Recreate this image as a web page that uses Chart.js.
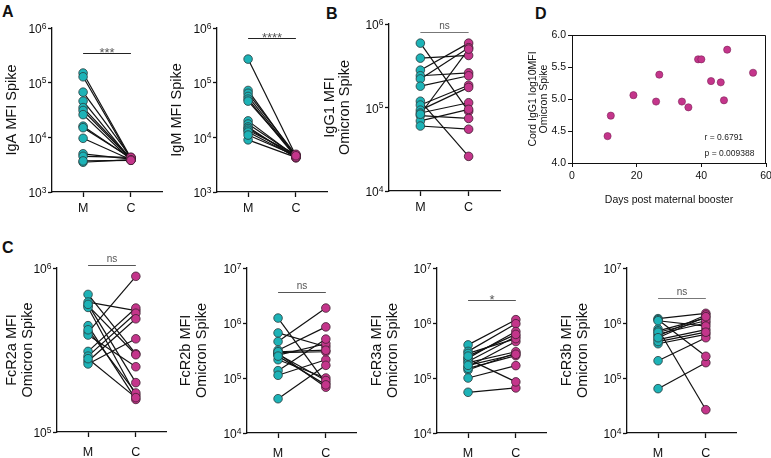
<!DOCTYPE html>
<html lang="en">
<head>
<meta charset="UTF-8">
<title>Maternal vs cord Omicron Spike antibodies</title>
<script src="https://cdn.jsdelivr.net/npm/chart.js"></script>
<style>
  body { margin: 0; background: #fff; width: 771px; height: 458px; overflow: hidden; position: relative;
         font-family: "Liberation Sans", Arial, sans-serif; }
  canvas { position: absolute; }
  .tag { position: absolute; font-weight: bold; font-size: 16px; line-height: 1; color: #111; }
</style>
</head>
<body>
<div class="tag" style="left:2px;top:4px">A</div>
<div class="tag" style="left:326px;top:6px">B</div>
<div class="tag" style="left:2px;top:240px">C</div>
<div class="tag" style="left:535px;top:6px">D</div>

<canvas id="iga" width="170" height="215" style="left:0;top:0"></canvas>
<canvas id="igm" width="170" height="215" style="left:165px;top:0"></canvas>
<canvas id="igg1" width="185" height="215" style="left:322px;top:0"></canvas>
<canvas id="corr" width="260" height="215" style="left:522px;top:0"></canvas>
<canvas id="fcr2a" width="172" height="223" style="left:0;top:235px"></canvas>
<canvas id="fcr2b" width="192" height="223" style="left:170px;top:235px"></canvas>
<canvas id="fcr3a" width="192" height="223" style="left:360px;top:235px"></canvas>
<canvas id="fcr3b" width="192" height="223" style="left:550px;top:235px"></canvas>

<script>
// groups on the x axis: maternal (M) and cord (C)
const groups = ['M', 'C'];

// paired MFI values, one entry per mother/cord pair
const igaM = [150000, 128000, 67000, 46000, 35000, 31000, 26000, 16000, 15000, 9600, 5000, 4500, 3500, 3700];
const igaC = [4200, 4000, 4300, 3900, 4100, 4000, 3800, 4100, 4200, 3900, 4000, 4300, 3900, 3800];

const igmM = [270000, 72000, 64000, 56000, 50000, 46000, 20000, 17500, 15500, 14500, 13500, 12500, 9000, 11000];
const igmC = [4600, 4400, 4800, 4500, 4300, 4700, 4400, 4600, 4200, 4500, 4900, 4400, 4300, 4600];

const igg1M = [590000, 390000, 280000, 240000, 220000, 180000, 119000, 107000, 93000, 86000, 80000, 69000, 60000, 83000];
const igg1C = [90000, 420000, 590000, 260000, 520000, 240000, 26000, 185000, 174000, 114000, 74000, 95000, 55000, 500000];

const fcr2aM = [690000, 620000, 590000, 575000, 445000, 405000, 390000, 310000, 290000, 270000, 260000, 600000, 420000, 280000];
const fcr2aC = [300000, 550000, 296000, 167000, 158000, 890000, 250000, 570000, 530000, 490000, 370000, 200000, 173000, 162000];

const fcr2bM = [1230000, 660000, 460000, 320000, 280000, 260000, 215000, 136000, 112000, 42000, 290000, 270000, 300000, 250000];
const fcr2bC = [81000, 370000, 1870000, 850000, 68000, 420000, 100000, 510000, 215000, 170000, 300000, 90000, 320000, 75000];

const fcr3aM = [400000, 305000, 230000, 200000, 160000, 140000, 100000, 55000, 280000, 220000, 190000, 150000, 250000, 170000];
const fcr3aC = [1150000, 970000, 700000, 570000, 460000, 285000, 168000, 66000, 520000, 85000, 300000, 255000, 620000, 270000];

const fcr3bM = [1200000, 780000, 630000, 500000, 420000, 206000, 64000, 1150000, 720000, 580000, 680000, 1100000, 460000, 540000];
const fcr3bC = [1500000, 26500, 1000000, 760000, 620000, 540000, 190000, 248000, 1230000, 1400000, 1100000, 880000, 680000, 1300000];

// log axis tick values
const ticks3to6 = [1e3, 1e4, 1e5, 1e6];
const ticks4to6 = [1e4, 1e5, 1e6];
const ticks5to6 = [1e5, 1e6];
const ticks4to7 = [1e4, 1e5, 1e6, 1e7];

// panel D: days since booster vs cord IgG1 (log10 MFI)
const boosterDays = [11, 12, 19, 26, 27, 34, 36, 39, 40, 43, 46, 47, 48, 56];
const cordIgG1 = [4.42, 4.74, 5.06, 4.96, 5.38, 4.96, 4.87, 5.62, 5.62, 5.28, 5.26, 4.98, 5.77, 5.41];
const corrStats = ['r = 0.6791', 'p = 0.009388'];

const FONT = '"Liberation Sans", Arial, sans-serif';
Chart.defaults.font.family = FONT;
Chart.defaults.color = '#111';

const TEAL = '#1db3b7';
const PINK = '#c4358b';

// draws "10" with a raised exponent next to each y tick
const powerLabels = {
    id: 'powerLabels',
    afterDraw(chart) {
        const { ctx } = chart;
        const y = chart.scales.y;
        ctx.save();
        ctx.fillStyle = '#111';
        ctx.textAlign = 'right';
        y.ticks.forEach(t => {
            const py = y.getPixelForValue(t.value);
            const exp = String(Math.round(Math.log10(t.value)));
            const xr = y.right - 5.5;
            ctx.font = '8.5px ' + FONT;
            ctx.textBaseline = 'alphabetic';
            ctx.fillText(exp, xr, py + 0.5);
            const w = ctx.measureText(exp).width;
            ctx.font = '12px ' + FONT;
            ctx.textBaseline = 'middle';
            ctx.fillText('10', xr - w, py + 2);
        });
        ctx.restore();
    }
};

// significance bar between M and C
function sigPlugin(level, label, color) {
    return {
        id: 'sig',
        afterDatasetsDraw(chart) {
            const { ctx, scales: { x, y } } = chart;
            const py = Math.round(y.getPixelForValue(level)) + 0.5;
            const x0 = x.getPixelForValue(0), x1 = x.getPixelForValue(1);
            ctx.save();
            ctx.strokeStyle = color;
            ctx.lineWidth = 1.2;
            ctx.beginPath();
            ctx.moveTo(x0, py);
            ctx.lineTo(x1, py);
            ctx.stroke();
            ctx.fillStyle = '#555';
            ctx.textAlign = 'center';
            ctx.textBaseline = 'alphabetic';
            if (label === 'ns') {
                ctx.font = '10px ' + FONT;
                ctx.fillText(label, (x0 + x1) / 2, py - 4);
            } else {
                ctx.font = '13px ' + FONT;
                ctx.fillText(label, (x0 + x1) / 2, py + 3);
            }
            ctx.restore();
        }
    };
}

function pairedChart(id, mVals, cVals, p) {
    const datasets = [
        { data: mVals.map(v => ({ x: 0, y: v })), pointRadius: 4.3, pointBackgroundColor: TEAL,
          pointBorderColor: '#2a3b3c', pointBorderWidth: 0.8, order: 0, clip: false },
        { data: cVals.map(v => ({ x: 1, y: v })), pointRadius: 4.3, pointBackgroundColor: PINK,
          pointBorderColor: '#3d1f30', pointBorderWidth: 0.8, order: 0, clip: false }
    ];
    mVals.forEach((m, i) => {
        datasets.push({
            data: [{ x: 0, y: m }, { x: 1, y: cVals[i] }],
            showLine: true, borderColor: '#111', borderWidth: 1.2, pointRadius: 0, order: 1, clip: false
        });
    });

    return new Chart(document.getElementById(id), {
        type: 'scatter',
        data: { datasets },
        options: {
            responsive: false,
            animation: false,
            events: [],
            layout: { padding: { top: p.top, right: p.right, left: 0, bottom: 0 } },
            plugins: { legend: { display: false }, tooltip: { enabled: false } },
            scales: {
                x: {
                    type: 'linear', min: -0.65, max: 1.65,
                    afterBuildTicks: s => { s.ticks = [{ value: 0 }, { value: 1 }]; },
                    afterFit: s => { s.height = p.xh; },
                    ticks: { callback: v => groups[v], font: { size: 12.5 }, padding: p.xpad, maxRotation: 0 },
                    grid: { drawOnChartArea: false, tickLength: 5, tickWidth: 1.3, tickColor: '#111' },
                    border: { color: '#111', width: 1.3 }
                },
                y: {
                    type: 'logarithmic', min: p.ticks[0], max: p.ticks[p.ticks.length - 1],
                    afterBuildTicks: s => { s.ticks = p.ticks.map(v => ({ value: v })); },
                    afterFit: s => { s.width = p.yw; },
                    ticks: { display: false },
                    grid: { drawOnChartArea: false, tickLength: 4, tickWidth: 1.3, tickColor: '#111' },
                    border: { color: '#111', width: 1.3 },
                    title: { display: true, text: p.title, font: { size: 14.5, lineHeight: p.lh },
                             padding: { top: p.tpad, bottom: 0 } }
                }
            }
        },
        plugins: [powerLabels, sigPlugin(p.sig, p.sigLabel, p.sigColor)]
    });
}

pairedChart('iga', igaM, igaC, { top: 28, right: 8, xh: 23, xpad: 4, yw: 52, ticks: ticks3to6,
    title: 'IgA MFI Spike', lh: 1.2, tpad: 3.3, sig: 3.5e5, sigLabel: '***', sigColor: '#222' });
pairedChart('igm', igmM, igmC, { top: 28, right: 8, xh: 23, xpad: 4, yw: 52, ticks: ticks3to6,
    title: 'IgM MFI Spike', lh: 1.2, tpad: 3.3, sig: 6.6e5, sigLabel: '****', sigColor: '#222' });
pairedChart('igg1', igg1M, igg1C, { top: 24, right: 7, xh: 24, xpad: 4, yw: 67, ticks: ticks4to6,
    title: ['IgG1 MFI', 'Omicron Spike'], lh: 1.04, tpad: 0.5, sig: 8.1e5, sigLabel: 'ns', sigColor: '#777' });

pairedChart('fcr2a', fcr2aM, fcr2aC, { top: 33, right: 5, xh: 26, xpad: 8, yw: 57, ticks: ticks5to6,
    title: ['FcR2a MFI', 'Omicron Spike'], lh: 1.1, tpad: 4, sig: 1.04e6, sigLabel: 'ns', sigColor: '#555' });
pairedChart('fcr2b', fcr2bM, fcr2bC, { top: 33, right: 5, xh: 25, xpad: 8, yw: 77, ticks: ticks4to7,
    title: ['FcR2b MFI', 'Omicron Spike'], lh: 1.1, tpad: 8, sig: 3.6e6, sigLabel: 'ns', sigColor: '#555' });
pairedChart('fcr3a', fcr3aM, fcr3aC, { top: 33, right: 5, xh: 25, xpad: 8, yw: 77, ticks: ticks4to7,
    title: ['FcR3a MFI', 'Omicron Spike'], lh: 1.1, tpad: 9, sig: 2.6e6, sigLabel: '*', sigColor: '#555' });
pairedChart('fcr3b', fcr3bM, fcr3bC, { top: 33, right: 5, xh: 25, xpad: 8, yw: 77, ticks: ticks4to7,
    title: ['FcR3b MFI', 'Omicron Spike'], lh: 1.1, tpad: 9, sig: 2.8e6, sigLabel: 'ns', sigColor: '#777' });

// panel D: scatter with boxed plot area and correlation text
new Chart(document.getElementById('corr'), {
    type: 'scatter',
    data: {
        datasets: [{
            data: boosterDays.map((d, i) => ({ x: d, y: cordIgG1[i] })),
            pointRadius: 3.6, pointBackgroundColor: PINK, pointBorderColor: '#7d2258', pointBorderWidth: 0.6
        }]
    },
    options: {
        responsive: false,
        animation: false,
        events: [],
        layout: { padding: { top: 35, right: 16, left: 0, bottom: 0 } },
        plugins: { legend: { display: false }, tooltip: { enabled: false } },
        scales: {
            x: {
                min: 0, max: 60,
                afterFit: s => { s.height = 52; },
                ticks: { stepSize: 20, font: { size: 10.5 }, padding: 3, maxRotation: 0 },
                grid: { drawOnChartArea: false, tickLength: 4, tickColor: '#111' },
                border: { color: '#111', width: 1 },
                title: { display: true, text: 'Days post maternal booster', font: { size: 10.5 },
                         padding: { top: 0, bottom: 9 } }
            },
            y: {
                min: 4, max: 6,
                afterFit: s => { s.width = 50; },
                ticks: { stepSize: 0.5, callback: v => v.toFixed(1), font: { size: 10.5 }, padding: 2 },
                grid: { drawOnChartArea: false, tickLength: 4, tickColor: '#111' },
                border: { color: '#111', width: 1 },
                title: { display: true, text: ['Cord IgG1 log10MFI', 'Omicron Spike'],
                         font: { size: 10.5, lineHeight: 1.1 }, padding: { top: 5.2, bottom: 0 } }
            }
        }
    },
    plugins: [{
        id: 'box',
        beforeDatasetsDraw(chart) {
            const { ctx, chartArea: a, scales: { x, y } } = chart;
            ctx.save();
            ctx.strokeStyle = '#111';
            ctx.lineWidth = 1;
            ctx.beginPath();
            ctx.moveTo(a.left, a.top + 0.5);
            ctx.lineTo(a.right - 0.5, a.top + 0.5);
            ctx.lineTo(a.right - 0.5, a.bottom);
            ctx.stroke();
            ctx.fillStyle = '#222';
            ctx.font = '8.5px ' + FONT;
            ctx.textBaseline = 'middle';
            ctx.fillText(corrStats[0], x.getPixelForValue(41), y.getPixelForValue(4.39));
            ctx.fillText(corrStats[1], x.getPixelForValue(41), y.getPixelForValue(4.14));
            ctx.restore();
        }
    }]
});
</script>
</body>
</html>
